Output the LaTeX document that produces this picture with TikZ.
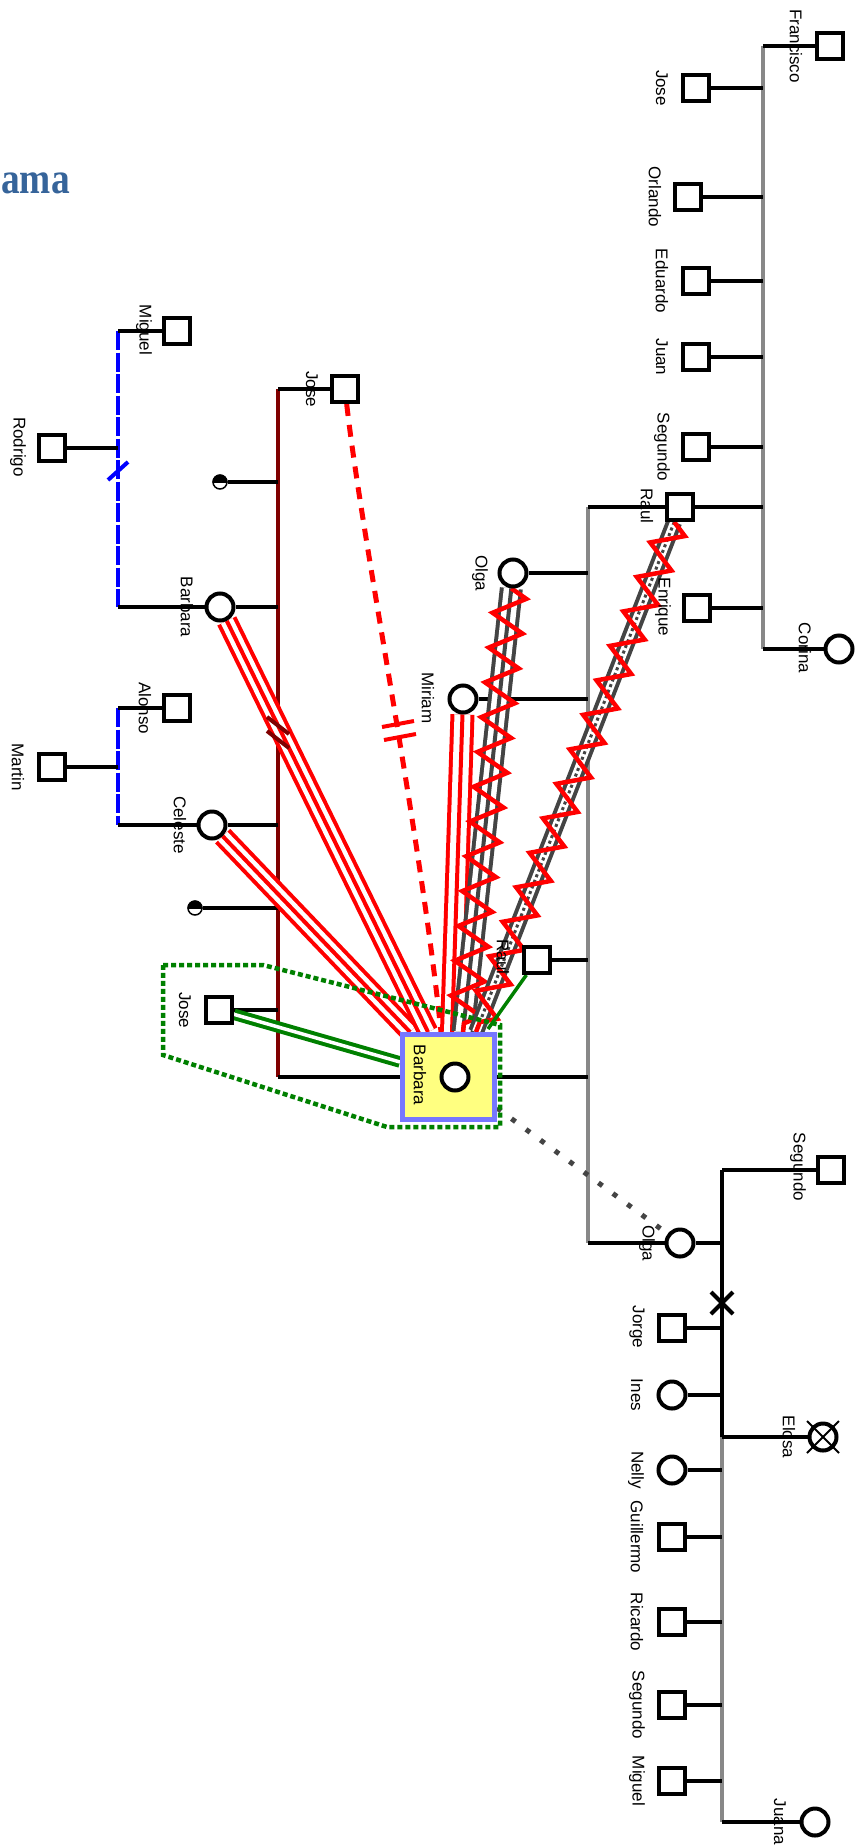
\documentclass[tikz,border=0pt]{standalone}
\usepackage{fontspec}
\setmainfont{Liberation Sans}
\newfontfamily\titlefont{Liberation Serif}
\usetikzlibrary{decorations.pathmorphing,calc}
\definecolor{maroonc}{HTML}{800000}
\definecolor{gline}{HTML}{888888}
\definecolor{dgray}{HTML}{444444}
\definecolor{titleblue}{HTML}{36649A}
\definecolor{focusfill}{HTML}{FFFF80}
\definecolor{focusborder}{HTML}{7777FF}
\definecolor{greenc}{HTML}{008000}
\pgfdeclarelayer{bg}
\pgfsetlayers{bg,main}
\begin{document}
\begin{tikzpicture}[x=1pt,y=-1pt,
  sq/.style={draw,line width=4pt,minimum size=26pt,inner sep=0pt,fill=white},
  ci/.style={circle,draw,line width=4pt,minimum size=27pt,inner sep=0pt,fill=white},
  mini/.style={circle,draw,line width=1.5pt,minimum size=14pt,inner sep=0pt,fill=white},
  lbl/.style={rotate=-90,inner sep=0pt,font=\fontsize{17}{17}\selectfont},
  conn/.style={line width=3.5pt,black},
  gvert/.style={line width=4pt,gline},
  mvert/.style={line width=4pt,maroonc},
  bvert/.style={line width=4pt,blue,dash pattern=on 19pt off 2.5pt},
  trip/.style n args={3}{draw=#1,line width=#2,postaction={draw=white,line width=#3},postaction={draw=#1,line width=4pt}},
  zz/.style={draw=red,line width=4.5pt,decorate,decoration={zigzag,segment length=35pt,amplitude=16pt}},
  zzr/.style={draw=red,line width=4.5pt,decorate,decoration={zigzag,segment length=37pt,amplitude=15pt}},
  tickmark/.style={line width=4pt}
]
\path[use as bounding box] (0,0) rectangle (861,1847);

% title
\node[anchor=base east,text=titleblue,font=\titlefont\bfseries\fontsize{44}{44}\selectfont,xscale=0.85,inner sep=0pt] (title) at (70,193) {ama};

% ---------- family 1 (top right)
\node[sq] (fran) at (830,46) {};   \node[lbl] (franl) at (796,46) {Francisco};
\node[sq] (jose0) at (696,88) {};  \node[lbl] (jose0l) at (662,88) {Jose};
\node[sq] (orl) at (688,197) {};   \node[lbl] (orll) at (655,197) {Orlando};
\node[sq] (edu) at (696,281) {};   \node[lbl] (edul) at (662,281) {Eduardo};
\node[sq] (juan) at (696,357) {};  \node[lbl] (juanl) at (662,357) {Juan};
\node[sq] (seg0) at (696,447) {};  \node[lbl] (seg0l) at (662,447) {Segundo};
\node[sq] (raul0) at (680,507) {}; \node[lbl] (raul0l) at (647,506) {Raul};
\node[sq] (enr) at (697,608) {};   \node[lbl] (enrl) at (663,607) {Enrique};
\node[ci] (cor) at (839,649) {};   \node[lbl] (corl) at (805,648) {Corina};
\coordinate (g1t) at (763,46);
\coordinate (g1b) at (763,649);

% ---------- family 2
\node[ci] (olga1) at (513,573) {}; \node[lbl] (olga1l) at (480,573) {Olga};
\node[ci] (mir) at (463,699) {};   \node[lbl] (mirl) at (428,698) {Miriam};
\node[sq] (raul1) at (537,960) {}; \node[lbl] (raul1l) at (503,957) {Raul};
\node[ci] (olgab) at (680,1243) {};\node[lbl] (olgabl) at (647,1243) {Olga};
\coordinate (g2t) at (588,507);
\coordinate (g2b) at (588,1243);

% ---------- family 3 (bottom right)
\node[sq] (segb) at (831,1170) {}; \node[lbl] (segbl) at (798,1167) {Segundo};
\node[sq] (jorge) at (672,1328) {};\node[lbl] (jorgel) at (637,1327) {Jorge};
\node[ci] (ines) at (672,1395) {}; \node[lbl] (inesl) at (637,1395) {Ines};
\node[ci] (elo) at (823,1437) {};  \node[lbl] (elol) at (789,1437) {Elosa};
\node[ci] (nelly) at (672,1470) {};\node[lbl] (nellyl) at (636,1470) {Nelly};
\node[sq] (guil) at (672,1537) {}; \node[lbl] (guill) at (637,1537) {Guillermo};
\node[sq] (ric) at (672,1622) {};  \node[lbl] (ricl) at (637,1622) {Ricardo};
\node[sq] (segc) at (672,1705) {}; \node[lbl] (segcl) at (637,1705) {Segundo};
\node[sq] (mig2) at (672,1781) {}; \node[lbl] (mig2l) at (637,1781) {Miguel};
\node[ci] (juana) at (815,1822) {};\node[lbl] (juanal) at (780,1822) {Juana};
\coordinate (b3t) at (722,1170);
\coordinate (b3m) at (722,1437);
\coordinate (b3b) at (722,1822);
\draw[line width=2pt] ($(elo)+(-16,-16)$) -- ($(elo)+(16,16)$);
\draw[line width=2pt] ($(elo)+(-16,16)$) -- ($(elo)+(16,-16)$);

% ---------- maroon family
\node[sq] (jose1) at (345,389) {}; \node[lbl] (jose1l) at (312,389) {Jose};
\node[mini] (m1) at (220,482) {};
\node[ci] (barb) at (220,607) {};  \node[lbl] (barbl) at (187,607) {Barbara};
\node[ci] (cel) at (212,825) {};   \node[lbl] (cell) at (180,825) {Celeste};
\node[mini] (m2) at (195,908) {};
\node[sq] (jose2) at (219,1010) {};\node[lbl] (jose2l) at (185,1010) {Jose};
\coordinate (mt) at (278,389);
\coordinate (mb) at (278,1077);
\begin{scope}
  \clip (205,466) rectangle (235,482);
  \fill (m1.center) circle (7.5pt);
\end{scope}
\begin{scope}
  \clip (180,892) rectangle (210,908);
  \fill (m2.center) circle (7.5pt);
\end{scope}

% ---------- blue families
\node[sq] (mig1) at (177,331) {};  \node[lbl] (mig1l) at (144,330) {Miguel};
\node[sq] (rod) at (52,448) {};    \node[lbl] (rodl) at (18,447) {Rodrigo};
\node[sq] (alo) at (177,708) {};   \node[lbl] (alol) at (145,708) {Alonso};
\node[sq] (mar) at (52,767) {};    \node[lbl] (marl) at (18,767) {Martin};
\coordinate (bl1t) at (118,331);
\coordinate (bl1b) at (118,607);
\coordinate (bl2t) at (118,708);
\coordinate (bl2b) at (118,825);

% ---------- focus
\node[draw=focusborder,fill=focusfill,line width=5pt,minimum width=92pt,minimum height=85pt,inner sep=0pt] (focus) at (448.5,1077) {};
\node[ci] (fcirc) at (455,1077) {};
\node[lbl] (focusl) at (420,1075) {Barbara};
\coordinate (tC) at (410,1032);
\coordinate (tB) at (428,1032);
\coordinate (tD) at (441,1032);
\coordinate (tM) at (452,1032);
\coordinate (tO) at (463,1032);
\coordinate (tR) at (476,1032);
\coordinate (tG) at (488,1029);
\coordinate (tL) at (400,1062);
\coordinate (tS) at (497,1108);

\begin{pgfonlayer}{bg}
  % vertical sibship / couple lines
  \draw[gvert] (g1t) -- (g1b);
  \draw[gvert] (g2t) -- (g2b);
  \draw[line width=4pt] (b3t) -- (b3m);
  \draw[gvert] (b3m) -- (b3b);
  \draw[mvert] (mt) -- (mb);
  \draw[bvert] (bl1t) -- (bl1b);
  \draw[bvert] (bl2t) -- (bl2b);
  % family 1
  \draw[conn] (fran) -- (g1t);
  \foreach \n in {jose0,orl,edu,juan,seg0,raul0,enr} \draw[conn] (\n) -- (\n -| g1t);
  \draw[conn] (cor) -- (g1b);
  % family 2
  \draw[conn] (raul0) -- (g2t);
  \foreach \n in {olga1,mir,raul1} \draw[conn] (\n) -- (\n -| g2t);
  \draw[conn] (focus) -- (focus -| g2t);
  \draw[conn] (olgab) -- (g2b);
  % family 3
  \draw[conn] (segb) -- (b3t);
  \draw[conn] (olgab) -- (olgab -| b3t);
  \foreach \n in {jorge,ines,nelly,guil,ric,segc,mig2} \draw[conn] (\n) -- (\n -| b3t);
  \draw[conn] (elo) -- (b3m);
  \draw[conn] (juana) -- (b3b);
  % maroon family
  \draw[conn] (jose1) -- (mt);
  \foreach \n in {m1,barb,cel,m2,jose2} \draw[conn] (\n) -- (\n -| mt);
  \draw[conn] (focus) -- (mb);
  % blue families
  \draw[conn] (mig1) -- (bl1t);
  \draw[conn] (rod) -- (rod -| bl1t);
  \draw[conn] (barb) -- (bl1b);
  \draw[conn] (alo) -- (bl2t);
  \draw[conn] (mar) -- (mar -| bl2t);
  \draw[conn] (cel) -- (bl2b);

  % relationships with focus
  \draw[trip={red}{21pt}{13pt}] (cel) -- (tC);
  \draw[trip={red}{21pt}{13pt}] (barb) -- (tB);
  \draw[red,line width=5pt,dash pattern=on 12pt off 9pt] (jose1) .. controls (362,540) and (420,830) .. (tD);
  \draw[trip={red}{24pt}{16pt}] (mir) -- (tM);
  \draw[trip={dgray}{23pt}{15pt}] (olga1) -- (tO);
  \draw[zz] (olga1) -- (tO);
  \draw[draw=dgray,line width=16pt,postaction={draw=white,line width=8pt},postaction={draw=dgray,line width=3pt,dash pattern=on 3pt off 3pt}] (raul0) -- (tR);
  \draw[zzr] (raul0) -- (tR);
  \draw[greenc,line width=3.5pt] (raul1) -- (tG);
  \draw[greenc,line width=4pt,double=white,double distance=3.5pt] (jose2) -- (tL);
  \draw[dgray,line width=5pt,dash pattern=on 5pt off 13pt] (tS) -- (olgab);

  % marks
  \draw[red,tickmark] (382,727) -- (414,721);
  \draw[red,tickmark] (384,740) -- (416,734);
  \draw[maroonc,tickmark] (267,717) -- (289,734);
  \draw[maroonc,tickmark] (267,731) -- (289,748);
  \draw[blue,tickmark] (108,480) -- (128,462);
  \draw[tickmark] (711,1292) -- (733,1314);
  \draw[tickmark] (711,1314) -- (733,1292);

  % green boundary
  \draw[greenc,line width=4.5pt,dash pattern=on 5pt off 3pt] (163,965) -- (263,965) -- (500,1025) -- (500,1127) -- (387,1127) -- (163,1055) -- cycle;
\end{pgfonlayer}
\end{tikzpicture}
\end{document}
